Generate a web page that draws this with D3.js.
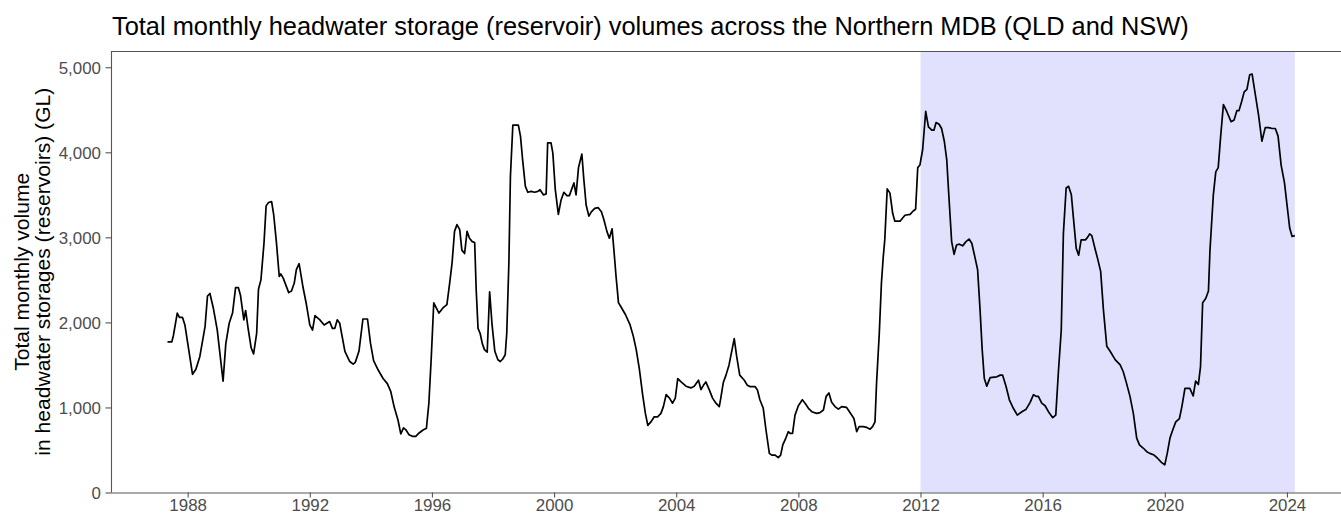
<!DOCTYPE html>
<html>
<head>
<meta charset="utf-8">
<script src="https://cdn.jsdelivr.net/npm/d3@7"></script>
<style>
  html, body { margin: 0; padding: 0; background: #fff; overflow: hidden; }
  svg { display: block; font-family: "Liberation Sans", Arial, Helvetica, sans-serif; }
</style>
</head>
<body>
<svg id="chart" width="1341" height="515"></svg>
<script>
// Observation dates as decimal years
const months = [
  1987.34, 1987.48, 1987.53, 1987.66, 1987.73, 1987.83, 1987.91, 1988.16, 1988.27, 1988.40,
  1988.57, 1988.65, 1988.73, 1988.84, 1988.97, 1989.16, 1989.25, 1989.36, 1989.47, 1989.57,
  1989.66, 1989.73, 1989.84, 1989.90, 1989.98, 1990.08, 1990.16, 1990.26, 1990.32, 1990.40,
  1990.50, 1990.57, 1990.65, 1990.75, 1990.82, 1990.91, 1991.00, 1991.05, 1991.13, 1991.31,
  1991.40, 1991.49, 1991.56, 1991.65, 1991.78, 1991.89, 1992.00, 1992.09, 1992.17, 1992.33,
  1992.47, 1992.65, 1992.74, 1992.82, 1992.90, 1992.98, 1993.15, 1993.31, 1993.42, 1993.49,
  1993.61, 1993.74, 1993.89, 1993.99, 1994.09, 1994.24, 1994.40, 1994.54, 1994.65, 1994.76,
  1994.89, 1994.98, 1995.07, 1995.14, 1995.25, 1995.36, 1995.47, 1995.58, 1995.71, 1995.82,
  1995.90, 1995.98, 1996.06, 1996.23, 1996.36, 1996.49, 1996.58, 1996.66, 1996.74, 1996.82,
  1996.91, 1996.98, 1997.07, 1997.15, 1997.23, 1997.32, 1997.40, 1997.45, 1997.51, 1997.58,
  1997.65, 1997.72, 1997.81, 1997.89, 1997.97, 1998.06, 1998.16, 1998.24, 1998.32, 1998.40,
  1998.45, 1998.52, 1998.57, 1998.65, 1998.76, 1998.83, 1998.90, 1998.97, 1999.06, 1999.14,
  1999.25, 1999.36, 1999.47, 1999.54, 1999.65, 1999.74, 1999.79, 1999.90, 1999.96, 2000.04,
  2000.14, 2000.23, 2000.32, 2000.42, 2000.50, 2000.58, 2000.65, 2000.72, 2000.80, 2000.91,
  2000.97, 2001.05, 2001.14, 2001.22, 2001.33, 2001.44, 2001.55, 2001.63, 2001.73, 2001.81,
  2001.90, 2001.96, 2002.03, 2002.11, 2002.18, 2002.34, 2002.49, 2002.60, 2002.69, 2002.79,
  2002.90, 2002.99, 2003.07, 2003.17, 2003.28, 2003.39, 2003.50, 2003.58, 2003.67, 2003.78,
  2003.88, 2003.97, 2004.05, 2004.16, 2004.32, 2004.48, 2004.59, 2004.73, 2004.81, 2004.89,
  2004.97, 2005.08, 2005.19, 2005.30, 2005.41, 2005.46, 2005.54, 2005.63, 2005.73, 2005.90,
  2005.98, 2006.08, 2006.23, 2006.33, 2006.42, 2006.58, 2006.66, 2006.74, 2006.85, 2006.94,
  2007.05, 2007.13, 2007.24, 2007.34, 2007.42, 2007.49, 2007.59, 2007.67, 2007.73, 2007.81,
  2007.89, 2008.00, 2008.13, 2008.22, 2008.33, 2008.44, 2008.60, 2008.71, 2008.82, 2008.91,
  2009.00, 2009.09, 2009.20, 2009.31, 2009.42, 2009.58, 2009.69, 2009.82, 2009.91, 2009.99,
  2010.13, 2010.24, 2010.35, 2010.43, 2010.51, 2010.56, 2010.65, 2010.72, 2010.78, 2010.83,
  2010.91, 2011.00, 2011.09, 2011.16, 2011.33, 2011.49, 2011.66, 2011.76, 2011.84, 2011.91,
  2011.98, 2012.07, 2012.17, 2012.26, 2012.37, 2012.44, 2012.51, 2012.61, 2012.69, 2012.78,
  2012.86, 2012.93, 2013.02, 2013.10, 2013.18, 2013.27, 2013.38, 2013.49, 2013.59, 2013.68,
  2013.78, 2013.87, 2013.95, 2014.02, 2014.09, 2014.17, 2014.28, 2014.50, 2014.61, 2014.69,
  2014.80, 2014.91, 2015.04, 2015.17, 2015.32, 2015.46, 2015.59, 2015.70, 2015.79, 2015.86,
  2015.97, 2016.08, 2016.19, 2016.33, 2016.43, 2016.52, 2016.61, 2016.68, 2016.77, 2016.85,
  2016.94, 2017.01, 2017.10, 2017.18, 2017.26, 2017.40, 2017.47, 2017.54, 2017.61, 2017.72,
  2017.80, 2017.90, 2017.99, 2018.10, 2018.21, 2018.38, 2018.54, 2018.64, 2018.75, 2018.86,
  2018.97, 2019.08, 2019.17, 2019.30, 2019.41, 2019.51, 2019.65, 2019.77, 2019.89, 2020.00,
  2020.08, 2020.17, 2020.26, 2020.36, 2020.48, 2020.56, 2020.66, 2020.82, 2020.93, 2021.01,
  2021.10, 2021.17, 2021.24, 2021.34, 2021.43, 2021.48, 2021.59, 2021.67, 2021.75, 2021.83,
  2021.92, 2022.03, 2022.17, 2022.27, 2022.36, 2022.43, 2022.52, 2022.60, 2022.69, 2022.78,
  2022.86, 2022.96, 2023.07, 2023.18, 2023.29, 2023.40, 2023.51, 2023.62, 2023.71, 2023.81,
  2023.92, 2024.01, 2024.09, 2024.17, 2024.26
];

// Total headwater storage volume (GL) at each date
const volumes = [
  1770, 1770, 1840, 2110, 2060, 2060, 1970, 1390, 1450, 1600,
  1950, 2310, 2340, 2170, 1910, 1310, 1750, 1990, 2110, 2410,
  2410, 2320, 2030, 2140, 1930, 1700, 1630, 1870, 2390, 2500,
  2930, 3370, 3410, 3420, 3260, 2930, 2540, 2570, 2520, 2350,
  2370, 2460, 2620, 2690, 2410, 2210, 1970, 1910, 2080, 2030,
  1970, 2010, 1930, 1930, 2030, 1990, 1660, 1540, 1510, 1530,
  1660, 2040, 2040, 1750, 1550, 1440, 1340, 1280, 1190, 1010,
  850, 690, 760, 740, 680, 660, 660, 700, 735, 755,
  1050, 1600, 2230, 2110, 2170, 2210, 2460, 2700, 3070, 3150,
  3090, 2850, 2810, 3070, 2990, 2950, 2940, 2380, 1930, 1870,
  1750, 1680, 1650, 2360, 1970, 1660, 1560, 1540, 1570, 1620,
  1870, 2700, 3710, 4320, 4320, 4320, 4190, 3910, 3600, 3530,
  3540, 3530, 3540, 3560, 3500, 3510, 4110, 4110, 3990, 3560,
  3270, 3440, 3530, 3490, 3490, 3570, 3640, 3500, 3820, 3980,
  3700, 3380, 3250, 3300, 3340, 3350, 3300, 3210, 3070, 2990,
  3100, 2850, 2540, 2230, 2190, 2090, 1970, 1830, 1680, 1460,
  1150, 930, 790, 830, 890, 890, 930, 1010, 1150, 1110,
  1050, 1110, 1340, 1300, 1250, 1230, 1250, 1320, 1210, 1260,
  1300, 1210, 1110, 1050, 1010, 1110, 1290, 1380, 1500, 1810,
  1600, 1380, 1320, 1260, 1245, 1245, 1205, 1090, 990, 735,
  460, 440, 440, 410, 440, 560, 640, 715, 695, 695,
  910, 1020, 1090, 1050, 990, 950, 930, 940, 970, 1130,
  1170, 1060, 1010, 980, 1010, 1000, 940, 870, 715, 775,
  775, 765, 745, 775, 830, 1280, 1870, 2460, 2770, 2970,
  3570, 3520, 3280, 3190, 3190, 3260, 3270, 3310, 3330, 3820,
  3850, 4030, 4480, 4300, 4260, 4260, 4350, 4330, 4280, 4130,
  3910, 3480, 2950, 2800, 2910, 2920, 2900, 2950, 2980, 2930,
  2770, 2620, 2150, 1680, 1340, 1250, 1350, 1360, 1380, 1380,
  1250, 1090, 990, 910, 950, 980, 1060, 1150, 1130, 1130,
  1050, 1020, 950, 880, 910, 1440, 1910, 3050, 3580, 3600,
  3500, 3220, 2870, 2790, 2970, 2970, 3000, 3040, 3020, 2860,
  2750, 2600, 2150, 1720, 1660, 1560, 1500, 1420, 1280, 1130,
  930, 640, 560, 520, 480, 460, 440, 400, 355, 325,
  460, 640, 735, 830, 870, 1010, 1225, 1225, 1135, 1310,
  1270, 1480, 2230, 2280, 2370, 2850, 3500, 3770, 3820, 4190,
  4560, 4480, 4360, 4380, 4490, 4490, 4600, 4710, 4740, 4910,
  4920, 4690, 4440, 4130, 4290, 4290, 4280, 4280, 4190, 3850,
  3640, 3360, 3110, 3010, 3020
];

// Highlighted period (start year, end year)
const shadePeriod = [2012.0, 2024.26];

const yTickValues = [0, 1000, 2000, 3000, 4000, 5000];
const xTickValues = [1988, 1992, 1996, 2000, 2004, 2008, 2012, 2016, 2020, 2024];

const titleText = "Total monthly headwater storage (reservoir) volumes across the Northern MDB (QLD and NSW)";
const yTitleLines = ["Total monthly volume", "in headwater storages (reservoirs) (GL)"];

const series = months.map((m, i) => ({ t: m, v: volumes[i] }));

const svg = d3.select("#chart");
const panel = { left: 111, right: 1348, top: 51, bottom: 492.5 };

const x = d3.scaleLinear().domain([1985.49, 2026.0]).range([panel.left, panel.right]);
const y = d3.scaleLinear().domain([0, 5191]).range([panel.bottom, panel.top]);

const axisColor = "#555555";
const tickTextColor = "#4d4d4d";
const tickFont = 16.9;

// Shaded period
svg.append("rect")
  .attr("x", x(shadePeriod[0]))
  .attr("y", panel.top)
  .attr("width", x(shadePeriod[1]) - x(shadePeriod[0]))
  .attr("height", panel.bottom - panel.top)
  .attr("fill", "#e1e1fd");

// Storage volume line
svg.append("path")
  .datum(series)
  .attr("fill", "none")
  .attr("stroke", "#000")
  .attr("stroke-width", 1.7)
  .attr("stroke-linejoin", "round")
  .attr("d", d3.line().x(d => x(d.t)).y(d => y(d.v)));

// Top frame line
svg.append("line")
  .attr("x1", panel.left).attr("x2", 1341)
  .attr("y1", panel.top + 0.5).attr("y2", panel.top + 0.5)
  .attr("stroke", axisColor).attr("stroke-width", 1.1);

// Y axis
const yAxis = svg.append("g")
  .attr("transform", `translate(${panel.left},0)`)
  .call(d3.axisLeft(y).tickValues(yTickValues).tickFormat(d3.format(",")).tickSize(5.5).tickPadding(4.5));
yAxis.select(".domain").attr("stroke", axisColor).attr("stroke-width", 1.1)
  .attr("d", `M0.5,${panel.top}V${panel.bottom}`);
yAxis.selectAll(".tick line").attr("stroke", axisColor).attr("stroke-width", 1.1);
yAxis.selectAll(".tick text").attr("fill", tickTextColor).attr("font-size", tickFont)
  .attr("font-family", "Liberation Sans, Arial, sans-serif").attr("dy", "0.36em");

// X axis (labels kept fully inside the bottom edge)
const xAxis = svg.append("g")
  .attr("transform", `translate(0,${panel.bottom})`)
  .call(d3.axisBottom(x).tickValues(xTickValues).tickFormat(d3.format("d")).tickSize(5).tickPadding(1.8));
xAxis.select(".domain").attr("stroke", axisColor).attr("stroke-width", 1.1)
  .attr("d", `M${panel.left},0.5H1341`);
xAxis.selectAll(".tick line").attr("stroke", axisColor).attr("stroke-width", 1.1);
xAxis.selectAll(".tick text").attr("fill", tickTextColor).attr("font-size", tickFont)
  .attr("font-family", "Liberation Sans, Arial, sans-serif");

// Title
svg.append("text")
  .attr("x", 112).attr("y", 35)
  .attr("font-size", 25.4).attr("fill", "#000")
  .text(titleText);

// Y axis title (two lines)
const yMid = (panel.top + panel.bottom) / 2;
yTitleLines.forEach((line, i) => {
  svg.append("text")
    .attr("transform", `translate(${28.5 + i * 21.8},${yMid}) rotate(-90)`)
    .attr("text-anchor", "middle")
    .attr("font-size", 21.1).attr("fill", "#000")
    .text(line);
});
</script>
</body>
</html>
